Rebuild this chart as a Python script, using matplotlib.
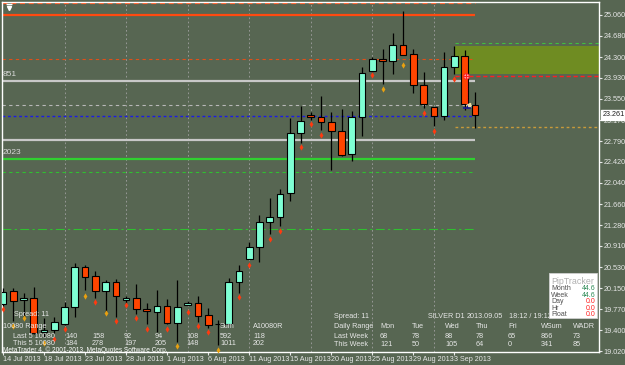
import matplotlib
matplotlib.use('Agg')
import matplotlib.pyplot as plt
import numpy as np
import pandas as pd
from matplotlib.patches import Rectangle
from matplotlib.transforms import blended_transform_factory

plt.rcParams['font.family'] = ['Liberation Sans', 'DejaVu Sans']

# SILVER D1 candles, 14 Jul - 5 Sep 2013 (no Saturday bars)
dates = pd.bdate_range('2013-07-14', '2013-09-05', freq='C', weekmask='Sun Mon Tue Wed Thu Fri')

opens = [19.869, 20.107, 19.935, 19.971, 19.366, 19.402, 19.504, 19.810, 20.538, 20.371,
         20.097, 20.258, 19.941, 19.971, 19.784, 19.731, 19.833, 19.522, 19.851, 19.892,
         19.671, 19.510, 19.510, 20.258, 20.682, 20.897, 21.335, 21.435, 21.855, 22.943,
         23.260, 23.230, 23.140, 22.978, 22.555, 23.219, 24.055, 24.260, 24.224, 24.516,
         24.349, 23.793, 23.398, 23.237, 24.127, 24.319, 23.434]
highs = [20.156, 20.161, 20.072, 20.179, 19.618, 19.641, 19.910, 20.599, 20.569, 20.466,
         20.299, 20.312, 20.012, 20.228, 19.881, 20.120, 19.953, 20.299, 19.923, 20.012,
         19.792, 19.582, 20.330, 20.569, 20.987, 21.460, 21.765, 21.927, 23.201, 23.422,
         23.319, 23.601, 23.314, 23.373, 23.332, 24.116, 24.300, 24.450, 24.737, 25.126,
         24.450, 24.037, 23.400, 24.391, 24.498, 24.427, 23.678]
lows = [19.833, 19.569, 19.641, 19.335, 19.277, 19.348, 19.490, 19.641, 20.120, 19.982,
        19.713, 19.641, 19.881, 19.689, 19.510, 19.372, 19.515, 19.192, 19.845, 19.551,
        19.433, 19.133, 19.505, 20.066, 20.675, 20.617, 21.119, 21.268, 21.722, 22.763,
        23.170, 22.991, 22.273, 22.520, 22.435, 22.889, 24.030, 23.811, 23.996, 24.330,
        23.660, 23.380, 23.063, 23.170, 23.996, 23.350, 23.022]
closes = [20.079, 19.928, 19.971, 19.343, 19.402, 19.546, 19.820, 20.527, 20.359, 20.107,
          20.258, 20.018, 19.971, 19.779, 19.738, 19.833, 19.522, 19.820, 19.892, 19.659,
          19.492, 19.512, 20.258, 20.461, 20.886, 21.335, 21.435, 21.837, 22.932, 23.158,
          23.224, 23.135, 22.973, 22.542, 23.230, 24.008, 24.260, 24.224, 24.522, 24.342,
          23.804, 23.458, 23.237, 24.116, 24.319, 23.458, 23.261]

# small indicator marks below candles
mark_idx = [0, 1, 2, 4, 5, 6, 8, 9, 10, 11, 12, 13, 14, 16, 17, 18, 19, 20, 21, 23, 24,
            26, 27, 29, 30, 31, 36, 37, 39, 41, 42, 44]
mark_px = [19.779, 19.474, 19.612, 19.163, 19.235, 19.415, 20.012, 19.899, 19.702, 19.558,
           19.851, 19.609, 19.426, 19.426, 19.120, 19.725, 19.469, 19.361, 19.043, 20.000,
           20.563, 21.030, 21.179, 22.686, 23.093, 22.901, 23.973, 23.727, 24.163, 23.291,
           22.973, 23.906]
mark_kind = ['r', 'y', 'y', 'y', 'r', 'r', 'y', 'r', 'y', 'r', 'r', 'r', 'r', 'r', 'y', 'r',
             'r', 'r', 'y', 'r', 'r', 'r', 'r', 'r', 'r', 'r', 'r', 'y', 'y', 'r', 'r', 'r']

yticks = [25.060, 24.680, 24.300, 23.930, 23.550, 23.170, 22.790, 22.420, 22.040, 21.660,
          21.280, 20.910, 20.530, 20.150, 19.770, 19.400, 19.020]
last_price = 23.261

# horizontal levels: price, color, style, width, label
levels = [
    (25.270, '#ff4a10', (0, (4, 3)), 0.9, None),
    (25.060, '#ff4a10', '-', 1.6, None),
    (24.260, '#e0501a', (0, (3, 3)), 0.8, None),
    (23.876, '#c8c8c8', '-', 1.6, '851'),
    (23.434, '#b8b8b8', (0, (3, 3)), 0.8, None),
    (23.237, '#1a1ae6', (0, (2, 2)), 1.0, None),
    (22.806, '#c8c8c8', '-', 1.6, None),
    (22.476, '#30d030', '-', 1.6, '2023'),
    (22.232, '#30c030', (0, (3, 3)), 0.8, None),
    (21.209, '#30c030', (0, (8, 3, 2, 3)), 0.8, None),
]
zone_top, zone_bot = 24.504, 24.001
zone_lines = [
    (24.547, '#40c040', (0, (3, 3)), 0.8),
    (23.955, '#ff2020', (0, (3, 2)), 1.0),
    (23.045, '#c89a3a', (0, (2, 2)), 1.0),
]

day_cols = ['Mon', 'Tue', 'Wed', 'Thu', 'Fri', 'WSum', 'WADR']
last_week = ['68', '78', '88', '78', '65', '866', '73']
this_week = ['121', '50', '105', '64', '0', '341', '85']
last5 = ['140', '158', '92', '94', '108', '592', '118']
this5 = ['184', '278', '197', '205', '148', '1011', '202']

bg = '#576652'
fg = '#e6e6e6'
W, H = 625, 365

fig = plt.figure(figsize=(6.25, 3.65), dpi=100, facecolor=bg)
ax = fig.add_axes([2 / W, 13 / H, 597 / W, 350 / H], facecolor=bg)

x = np.arange(len(opens))
o = np.array(opens); c = np.array(closes)
hi = np.array(highs); lo = np.array(lows)

ax.set_xlim(-0.1, 58.1)
ax.set_ylim(19.007, 25.288)

# vertical grid every 6 bars
for g in range(6, 47, 6):
    ax.axvline(g, color='#a0a0a0', lw=0.6, ls=(0, (2, 3)), zorder=1)

# levels on the left part
for price, col, ls, lw, lab in levels:
    ax.hlines(price, -0.1, 46, colors=col, linestyles=ls, lw=lw, zorder=2)
    if lab:
        ax.text(0.0, price + 0.05, lab, color='#d8d8d8', fontsize=6, va='bottom', ha='left', zorder=5)

# zone on the right
ax.add_patch(Rectangle((44.05, zone_bot), 58.1 - 44.05, zone_top - zone_bot,
                       facecolor='#6f8c22', edgecolor='none', zorder=1.5))
for price, col, ls, lw in zone_lines:
    ax.hlines(price, 44.05, 58.1, colors=col, linestyles=ls, lw=lw, zorder=2)

# candles
ax.vlines(x, lo, hi, color='black', lw=0.9, zorder=3)
bull = c >= o
body_h = np.maximum(np.abs(c - o), 0.006)
ax.bar(x[bull], body_h[bull], bottom=np.minimum(o, c)[bull], width=0.65,
       color='#7fffd4', edgecolor='black', lw=0.8, zorder=4)
ax.bar(x[~bull], body_h[~bull], bottom=np.minimum(o, c)[~bull], width=0.65,
       color='#ff4500', edgecolor='black', lw=0.8, zorder=4)

# marks below candles
mi = np.array(mark_idx); mp = np.array(mark_px); mk = np.array(mark_kind)
ax.plot(mi[mk == 'r'], mp[mk == 'r'], 'd', ms=3.2, color='#ff3a10', mec='none', zorder=4)
ax.plot(mi[mk == 'y'], mp[mk == 'y'], 'd', ms=3.2, color='#e8a010', mec='none', zorder=4)

# trade arrows on the last bars
ax.vlines(45.2, 23.45, 23.96, colors='#ff2020', linestyles=(0, (1, 1)), lw=0.8, zorder=5)
ax.plot(45.1, 23.96, 'o', ms=4, mfc='white', mec='#ff2020', mew=0.8, zorder=6)
ax.plot(45.1, 23.96, '+', ms=5, color='#ff2020', mew=1, zorder=6)
ax.plot(45.3, 23.44, '<', ms=3, color='#f0e0a0', zorder=6)
ax.hlines(23.38, 44.8, 45.6, colors='#1a1a90', lw=1.2, zorder=6)
ax.vlines(45.2, 23.38, 23.44, colors='#1a1a90', lw=0.8, zorder=6)

# axes styling
for s in ax.spines.values():
    s.set_color('white')
    s.set_linewidth(1)
ax.yaxis.tick_right()
ax.set_yticks(yticks)
ax.set_yticklabels([f'{v:.3f}' for v in yticks])
ticks = list(range(0, len(dates), 4))
ax.set_xticks(ticks)
ax.set_xticklabels([f'{dates[i].day} {dates[i]:%b %Y}' for i in ticks], ha='left')
ax.tick_params(axis='y', colors=fg, labelsize=5.2, length=2, pad=1.5, width=0.8)
ax.tick_params(axis='x', colors=fg, labelsize=5.2, length=2, pad=1, width=0.8)

# current price tag
tr = blended_transform_factory(ax.transAxes, ax.transData)
ax.text(1.006, last_price, f'{last_price:.3f}', transform=tr, fontsize=5.2, color='#202020',
        va='center', ha='left', zorder=10, clip_on=False,
        bbox=dict(boxstyle='square,pad=0.15', fc='white', ec='white'))

# top-left icon
ax.plot(0.012, 0.984, 'v', ms=3, color='white', transform=ax.transAxes, clip_on=False)
ax.plot(0.012, 0.993, '_', ms=4, color='white', transform=ax.transAxes, clip_on=False)


def ftext(px, py, s, **kw):
    kw.setdefault('color', fg)
    kw.setdefault('fontsize', 5.2)
    kw.setdefault('va', 'center')
    fig.text(px / W, 1 - py / H, s, **kw)


# left info table
ftext(14, 315, 'Spread: 11')
ftext(3, 327, '10080 Range')
ftext(220, 327, 'Sum')
ftext(253, 327, 'A10080R')
ftext(13, 336, 'Last 5 10080')
ftext(13, 343.5, 'This 5 10080')
for cx, a, b in zip([65, 92, 124, 155, 186, 220, 253], last5, this5):
    ftext(cx, 336, a)
    ftext(cx, 343.5, b)
ftext(3, 350, 'MetaTrader 4, © 2001-2013, MetaQuotes Software Corp.', fontsize=4.7, color='white')

# right info table
ftext(334, 316, 'Spread: 11')
ftext(428, 316, 'SILVER D1')
ftext(467, 316, '2013.09.05')
ftext(509, 316, '18:12 / 19:12')
ftext(334, 327, 'Daily Range')
ftext(334, 336.5, 'Last Week')
ftext(334, 344.5, 'This Week')
for cx, h, a, b in zip([380, 412, 445, 476, 508, 541, 573], day_cols, last_week, this_week):
    ftext(cx, 327, h)
    ftext(cx, 336.5, a)
    ftext(cx, 344.5, b)

# PipTracker box
fig.patches.append(Rectangle((549 / W, 1 - 318 / H), 48 / W, 45 / H, transform=fig.transFigure,
                             facecolor='white', edgecolor='#d0d0d0', lw=0.6, zorder=20))
ftext(551, 281, 'PipTracker', color='#b0b0b0', fontsize=6.4, zorder=21)
pt_rows = [('Month', '44.6', '#2e8b57'), ('Week', '44.6', '#2e8b57'), ('Day', '0.0', '#ff2020'),
           ('Hr', '0.0', '#ff2020'), ('Float', '0.0', '#ff2020')]
for k, (name, val, col) in enumerate(pt_rows):
    yy = 289 + k * 6.4
    ftext(551, yy, name, color='#505050', fontsize=5, zorder=21)
    ftext(595, yy, val, color=col, fontsize=5, ha='right', zorder=21)

fig.savefig('out.png', dpi=100, facecolor=bg)
